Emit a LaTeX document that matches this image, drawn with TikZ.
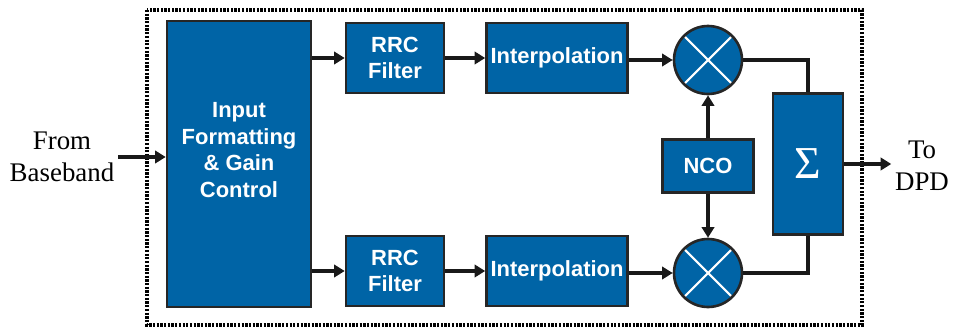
\documentclass[tikz,border=0pt]{standalone}
\usepackage{fontspec}
\setmainfont{Liberation Serif}
\setsansfont{Liberation Sans}
\usetikzlibrary{arrows.meta}

\definecolor{dspblue}{RGB}{0,100,166}

\tikzset{
  block/.style={draw=black!85, line width=1.5pt, fill=dspblue, text=white, align=center,
    font=\sffamily\bfseries\fontsize{12.5}{15.2}\selectfont, inner sep=0pt},
  mixer/.style={circle, draw=black!85, line width=1.5pt, fill=dspblue, minimum size=1.36cm, inner sep=0pt,
    path picture={\draw[white,line width=1.2pt]
      (path picture bounding box.north west) -- (path picture bounding box.south east)
      (path picture bounding box.north east) -- (path picture bounding box.south west);}},
  sig/.style={draw=black!90, line width=2.1pt},
  arr/.style={sig, -{Triangle[length=6pt,width=7pt]}},
  lbl/.style={align=center, font=\fontsize{15.3}{18.2}\selectfont, inner sep=2pt}
}

\begin{document}
\begin{tikzpicture}[x=0.02cm, y=-0.02cm]
  \useasboundingbox (0,0) rectangle (955,328);

  % dotted frame
  \draw[black, line width=1.8pt, dash pattern=on 1.3pt off 0.8pt] (147,10) rectangle (862,325);

  % blocks
  \node[block, minimum width=2.88cm, minimum height=5.72cm,
    label={[text=white, align=center, font=\sffamily\bfseries\fontsize{12.5}{15.2}\selectfont, yshift=0.28cm]center:{Input\\Formatting\\\& Gain\\Control}}] (fmt) at (239,164) {};
  \node[block, minimum width=1.96cm, minimum height=1.4cm] (rrcA) at (395,58) {RRC\\Filter};
  \node[block, minimum width=1.96cm, minimum height=1.4cm] (rrcB) at (395,271) {RRC\\Filter};
  \node[block, minimum width=2.82cm, minimum height=1.4cm] (interpA) at (557,58) {Interpolation};
  \node[block, minimum width=2.82cm, minimum height=1.4cm] (interpB) at (557,271) {Interpolation};
  \node[mixer] (mixA) at (708,60) {};
  \node[mixer] (mixB) at (708,273) {};
  \node[block, minimum width=1.82cm, minimum height=1.06cm] (nco) at (708,166) {NCO};
  \node[block, minimum width=1.4cm, minimum height=2.82cm, font=\fontsize{26}{26}\selectfont] (sum) at (808,164) {Σ};

  % outside labels
  \node[lbl] (src) at (62,157) {From\\Baseband};
  \node[lbl] (dst) at (922,166) {To\\DPD};

  % connections
  \draw[arr] (src.east) -- (fmt.west |- src.east);
  \draw[arr] (fmt.east |- rrcA) -- (rrcA);
  \draw[arr] (fmt.east |- rrcB) -- (rrcB);
  \draw[arr] (rrcA) -- (interpA);
  \draw[arr] (rrcB) -- (interpB);
  \draw[arr] (interpA.east |- mixA) -- (mixA);
  \draw[arr] (interpB.east |- mixB) -- (mixB);
  \draw[arr] (nco) -- (mixA);
  \draw[arr] (nco) -- (mixB);
  \draw[sig] (mixA.east) -| (sum.north);
  \draw[sig] (mixB.east) -| (sum.south);
  \draw[arr] (sum.east) -- (sum.east -| dst.west);
\end{tikzpicture}
\end{document}
